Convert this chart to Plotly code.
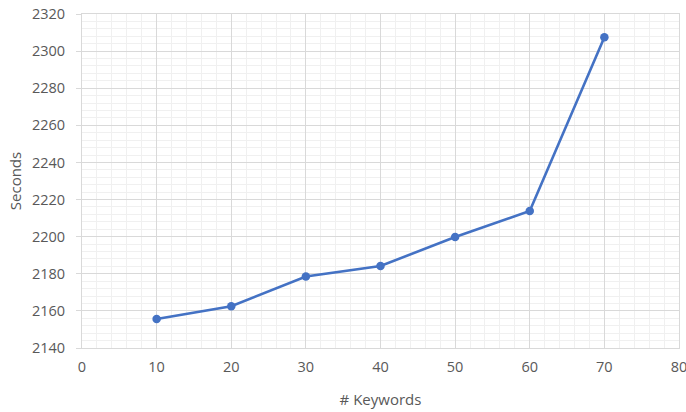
import plotly.graph_objects as go

keywords = [10, 20, 30, 40, 50, 60, 70]
seconds = [2155.6, 2162.5, 2178.5, 2184.2, 2199.8, 2213.8, 2307.5]

text_color = "#595959"
major_grid = "#d9d9d9"
minor_grid = "#f0f0f0"
font_family = "Open Sans, Liberation Sans, sans-serif"

fig = go.Figure(
    go.Scatter(
        x=keywords,
        y=seconds,
        mode="lines+markers",
        line=dict(color="#4472C4", width=2.6),
        marker=dict(color="#4472C4", size=8.5),
    )
)

fig.update_layout(
    width=686,
    height=412,
    margin=dict(l=82, r=7, t=14, b=64),
    paper_bgcolor="white",
    plot_bgcolor="white",
    showlegend=False,
    font=dict(family=font_family, size=14.5, color=text_color),
)

fig.update_xaxes(
    range=[0, 80],
    dtick=10,
    tick0=0,
    showgrid=True,
    gridcolor=major_grid,
    gridwidth=1,
    minor=dict(dtick=2, showgrid=True, gridcolor=minor_grid, gridwidth=1),
    showline=True,
    mirror=True,
    linecolor=major_grid,
    linewidth=1,
    zeroline=False,
    ticks="",
    ticklabelstandoff=6,
    ticklabeloverflow="allow",
    automargin=False,
    title=dict(text="# Keywords", standoff=19, font=dict(size=15, color=text_color)),
)

fig.update_yaxes(
    range=[2140, 2320],
    dtick=20,
    tick0=2140,
    showgrid=True,
    gridcolor=major_grid,
    gridwidth=1,
    minor=dict(dtick=4, showgrid=True, gridcolor=minor_grid, gridwidth=1),
    showline=True,
    mirror=True,
    linecolor=major_grid,
    linewidth=1,
    zeroline=False,
    ticks="outside",
    ticklen=5,
    tickcolor=major_grid,
    ticklabelstandoff=8,
    automargin=False,
    title=dict(text="Seconds", standoff=6, font=dict(size=15, color=text_color)),
)

fig.write_html("out.html")
